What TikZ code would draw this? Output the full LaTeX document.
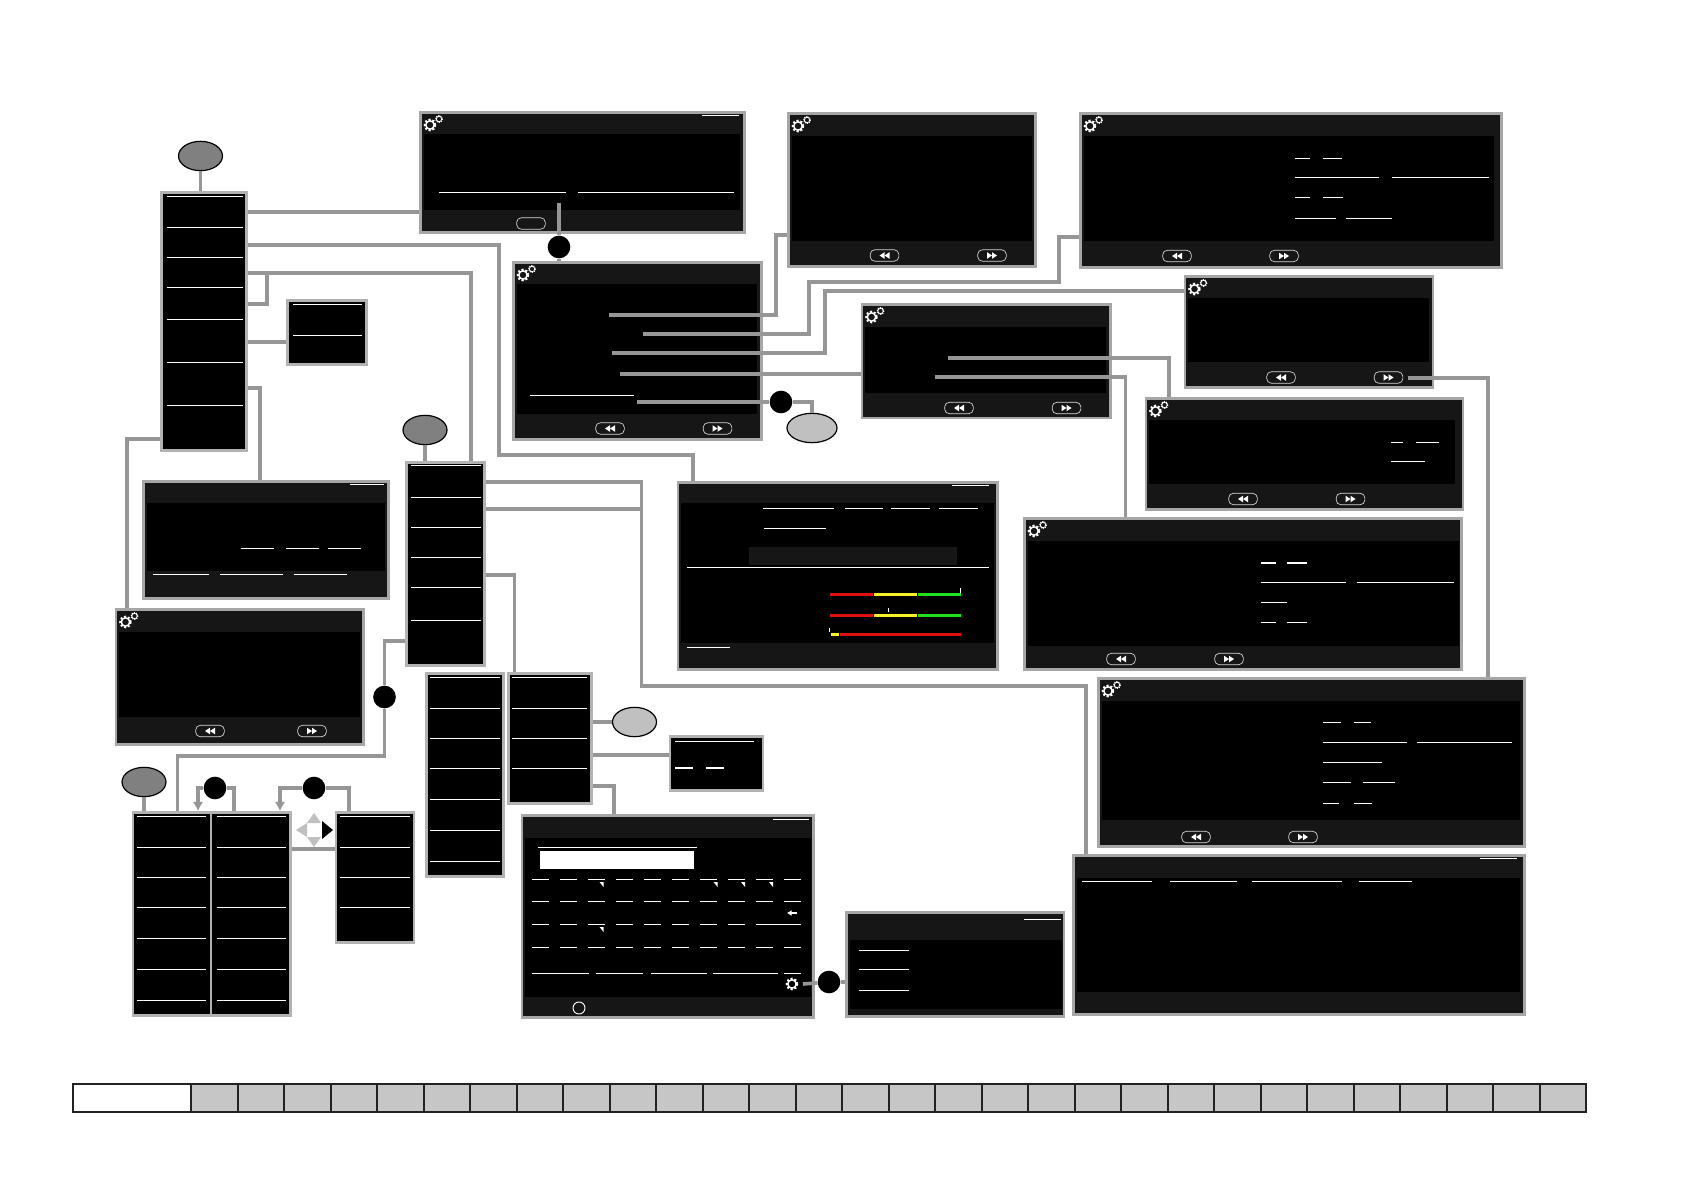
\documentclass[tikz,border=0pt]{standalone}
\usepackage{tikz}
\usepackage{xcolor}
\usetikzlibrary{arrows.meta,fit,shapes.geometric}
\definecolor{panelgray}{RGB}{22,22,22}
\definecolor{framegray}{RGB}{166,166,166}
\definecolor{menuframe}{RGB}{178,178,178}
\definecolor{linkgray}{RGB}{150,150,150}
\definecolor{ovaldark}{RGB}{128,128,128}
\definecolor{ovallight}{RGB}{192,192,192}
\definecolor{cellgray}{RGB}{198,198,198}
\definecolor{stripdark}{RGB}{34,34,34}
\definecolor{levelred}{RGB}{224,16,16}
\definecolor{levelyellow}{RGB}{248,240,40}
\definecolor{levelgreen}{RGB}{32,224,32}
\tikzset{
  screenbox/.style={draw=framegray, fill=panelgray, line width=1.9pt, inner sep=0pt},
  menubox/.style={draw=menuframe, fill=black, line width=1.9pt, inner sep=0pt},
  link/.style={draw=linkgray, line width=2.7pt},
  bar/.style={draw=white, line width=0.7pt},
  thickbar/.style={draw=white, line width=1.5pt},
  ovalnode/.style={ellipse, draw=black, line width=0.9pt, inner sep=0pt, minimum width=33pt, minimum height=22pt},
  dotnode/.style={ellipse, fill=black, inner sep=0pt, minimum width=17pt, minimum height=17pt},
  navbtn/.style={draw=white!85!black, line width=0.5pt, rounded corners=3.5pt, inner sep=0pt, minimum width=21.5pt, minimum height=8.6pt}
}
% screen: name, x0, y0, x1, y1, header bottom, footer top, right inset
\newcommand{\screen}[8]{%
  \node[screenbox, fit={(#2+0.4,#3+0.4) (#4-0.4,#5-0.4)}] (#1) {};
  \fill[black] (#2+3.5,#6) rectangle (#4-#8,#7);
}
% menu: name, x0, y0, x1, y1, bar start, bar end, bar rows
\newcommand{\menulist}[8]{%
  \node[menubox, fit={(#2+0.4,#3+0.4) (#4-0.4,#5-0.4)}] (#1) {};
  \foreach \y in {#8} \draw[bar] (#6,\y) -- (#7,\y);
}
\newcommand{\rewbtn}[2]{%
  \node[navbtn] at (#1,#2) {};
  \fill[white] (#1,#2-3.3) -- (#1,#2+3.3) -- (#1-5,#2) -- cycle;
  \fill[white] (#1+5,#2-3.3) -- (#1+5,#2+3.3) -- (#1,#2) -- cycle;
}
\newcommand{\fwdbtn}[2]{%
  \node[navbtn] at (#1,#2) {};
  \fill[white] (#1-5,#2-3.3) -- (#1-5,#2+3.3) -- (#1,#2) -- cycle;
  \fill[white] (#1,#2-3.3) -- (#1,#2+3.3) -- (#1+5,#2) -- cycle;
}
\newcommand{\onegear}[2]{%
  \draw[white, line width=1.1pt] (#1,#2) circle (4.2);
  \draw[white, line width=1.7pt, dash pattern=on 1.4pt off 1.4pt] (#1,#2) circle (5.2);
}
\newcommand{\gears}[2]{%
  \onegear{#1+10}{#2+13}
  \draw[white, line width=0.6pt] (#1+19,#2+7) circle (2.7);
  \draw[white, line width=0.8pt, dash pattern=on 0.8pt off 0.8pt] (#1+19,#2+7) circle (3.4);
}

\begin{document}
\begin{tikzpicture}[x=0.75pt, y=-0.75pt, >={Latex[length=7pt,width=8pt]}]
    \useasboundingbox (0,0) rectangle (1684,1191);

    % Ovals and dots
    \node[ovalnode, fill=ovaldark] (ovalMain) at (200.5,156) {};
    \node[ovalnode, fill=ovaldark] (ovalSub) at (425,430) {};
    \node[ovalnode, fill=ovaldark] (ovalList) at (144,782) {};
    \node[ovalnode, fill=ovallight, minimum width=37.5pt] (ovalLevel) at (812,428) {};
    \node[ovalnode, fill=ovallight] (ovalTool) at (634.5,722) {};
    \node[dotnode] (dotPair) at (559,247) {};
    \node[dotnode] (dotLevel) at (781,402) {};
    \node[dotnode] (dotWizard) at (384.5,697) {};
    \node[dotnode] (dotLeft) at (215,788) {};
    \node[dotnode] (dotRight) at (314,788) {};
    \node[dotnode] (dotKeys) at (829,982) {};

    % Menus
    \menulist{menuMain}{161}{192}{247}{451}{167}{243}{196,227,257,287,319,362,405}
    \menulist{menuSub}{406}{462}{485}{666}{411}{481}{465,497,527,557,587,620}
    \menulist{menuLong}{426}{673}{504}{877}{430}{500}{677,708,738,768,799,830,861}
    \menulist{menuTool}{508}{673}{592}{804}{512}{587}{677,708,738,768}
    \menulist{listLeft}{132.5}{812}{211.4}{1016}{137}{206}{816,847,877,907,938,969,1000}
    \menulist{listMid}{210.6}{812}{291}{1016}{217}{286}{816,847,877,907,938,969,1000}
    \menulist{listRight}{335.5}{812}{414.5}{943}{340}{410}{816,847,877,907}
    \menulist{boxMain}{287}{300}{367}{365}{293}{362}{304,335}
    \menulist{boxTool}{669.5}{736}{763.5}{791}{675}{754}{741}
    \draw[thickbar] (675,768) -- (693,768);
    \draw[thickbar] (706,768) -- (724,768);

    % Top row screens
    \screen{scrName}{420}{112}{745}{233}{134}{210}{5}
    \gears{420}{112}
    \draw[bar] (702,115) -- (739,115);
    \draw[bar] (439,192) -- (566,192);
    \draw[bar] (578,192) -- (734,192);
    \node[navbtn] at (531,223.5) {};

    \screen{scrWizard}{513}{262}{762}{440}{284}{414}{5}
    \gears{513}{262}
    \draw[bar] (530,395) -- (634,395);
    \rewbtn{610}{428.5}
    \fwdbtn{717.5}{428.5}

    \screen{scrTop}{788}{113}{1036}{267}{136}{241}{4}
    \gears{788}{113}
    \rewbtn{884.5}{255.5}
    \fwdbtn{992}{255.5}

    \screen{scrAddr}{1080}{113}{1502}{268}{136}{241}{8}
    \gears{1080}{113}
    \foreach \y/\a/\b in {158/1295/1310, 158/1323/1342, 177/1295/1379, 177/1392/1489,
        197/1295/1310, 197/1323/1343, 218/1295/1336, 218/1346/1392}
      \draw[bar] (\a,\y) -- (\b,\y);
    \rewbtn{1177}{256}
    \fwdbtn{1284}{256}

    % Middle right screens
    \screen{scrNet}{861.5}{304}{1111}{418.5}{327}{393}{5}
    \gears{861.5}{304}
    \rewbtn{959}{408}
    \fwdbtn{1066.5}{408}

    \screen{scrFlow}{1184.5}{276}{1433.5}{388}{298}{362}{4.5}
    \gears{1184.5}{276}
    \rewbtn{1281}{377.5}
    \fwdbtn{1388.5}{377.5}

    \screen{scrGate}{1145.5}{398}{1463.5}{510}{420}{484}{9}
    \gears{1145.5}{398}
    \foreach \y/\a/\b in {442/1391/1403, 442/1415.5/1438.5, 461/1391/1424.5}
      \draw[bar] (\a,\y) -- (\b,\y);
    \rewbtn{1243}{499}
    \fwdbtn{1350.5}{499}

    \screen{scrHost}{1024}{518}{1462}{670}{541}{646}{3}
    \gears{1024}{518}
    \foreach \y/\a/\b in {582/1261/1345.5, 582/1356.5/1453.5, 602/1261/1287,
        622/1261/1275.5, 622/1287/1307}
      \draw[bar] (\a,\y) -- (\b,\y);
    \draw[thickbar] (1261,563) -- (1275.5,563);
    \draw[thickbar] (1287,563) -- (1307,563);
    \rewbtn{1121}{659}
    \fwdbtn{1229}{659}

    \screen{scrRoute}{1098}{678}{1525}{847}{701}{820}{5}
    \gears{1098}{678}
    \foreach \y/\a/\b in {722/1323/1341, 722/1354/1371, 742/1323/1407, 742/1417/1512,
        762/1323/1382, 782/1323/1351, 782/1363/1395, 803/1323/1339, 803/1354/1372}
      \draw[bar] (\a,\y) -- (\b,\y);
    \rewbtn{1196}{837}
    \fwdbtn{1303}{837}

    \screen{scrList}{1073}{855}{1525}{1015}{878}{992}{5}
    \foreach \y/\a/\b in {858/1480/1517, 881/1082/1152, 881/1170/1237, 881/1252/1342, 881/1359/1412}
      \draw[bar] (\a,\y) -- (\b,\y);

    % Signal screen
    \screen{scrSignal}{677.5}{482}{998}{670}{503}{643}{4}
    \fill[panelgray] (749,547) rectangle (957,565);
    \foreach \y/\a/\b in {485/952/989, 508/763/834, 508/845/883, 508/891/930, 508/939/978,
        528/764/826, 567/687/989, 647/687/730}
      \draw[bar] (\a,\y) -- (\b,\y);
    \foreach \y in {593,614} {
      \fill[levelred] (830,\y) rectangle (873,\y+3.2);
      \fill[levelyellow] (874,\y) rectangle (917,\y+3.2);
      \fill[levelgreen] (918,\y) rectangle (961,\y+3.2);
    }
    \fill[levelyellow] (831,633) rectangle (839,636.2);
    \fill[levelred] (840,633) rectangle (961,636.2);
    \draw[bar] (960,588) -- (960,592.5);
    \draw[bar] (888,608) -- (888,612);
    \draw[bar] (829,628) -- (829,632);

    % Left screens
    \screen{scrPower}{143}{481}{389}{599}{503}{571}{4}
    \foreach \y/\a/\b in {484/350/384, 548/241/274, 548/286/319, 548/328/361,
        574/153/209, 574/220/283, 574/294/347}
      \draw[bar] (\a,\y) -- (\b,\y);

    \screen{scrDate}{115.5}{609}{364}{745}{632}{717}{4}
    \gears{115.5}{609}
    \rewbtn{210}{731}
    \fwdbtn{312}{731}

    % Keyboard screen
    \screen{scrKeys}{521.5}{815}{814}{1018}{838}{997}{3}
    \draw[bar] (773,819) -- (809,819);
    \draw[bar] (538,847) -- (697,847);
    \fill[white] (540,851) rectangle (694,869);
    \foreach \i in {0,...,9} {
      \draw[bar] (532+28*\i,879) -- (549+28*\i,879);
      \draw[bar] (532+28*\i,901) -- (549+28*\i,901);
      \draw[bar] (532+28*\i,947) -- (549+28*\i,947);
    }
    \foreach \i in {0,...,7}
      \draw[bar] (532+28*\i,924) -- (549+28*\i,924);
    \draw[bar] (756,924) -- (801,924);
    \foreach \a/\b in {532/589, 596/643, 651/707, 713/778, 784/801}
      \draw[bar] (\a,973) -- (\b,973);
    \foreach \a/\y in {603.5/882, 717.5/882, 745/882, 773/882, 603.5/927}
      \fill[white] (\a,\y) -- (\a,\y+5) -- (\a-4,\y) -- cycle;
    \draw[white, line width=1pt, -{Latex[length=3.5pt,width=4.5pt]}] (797,913) -- (787,913);
    \onegear{792}{984}
    \draw[white, line width=0.7pt] (579,1008) circle (6);

    \screen{scrAdmin}{846}{912}{1064.5}{1017}{940}{1009}{2.5}
    \foreach \y/\a/\b in {919/1024/1061, 950/859/909, 969/859/909, 990/859/909}
      \draw[bar] (\a,\y) -- (\b,\y);

    % Cursor cross
    \fill[ovallight] (314,813) -- (321,823) -- (307,823) -- cycle;
    \fill[ovallight] (296,830) -- (307,823) -- (307,837) -- cycle;
    \fill[ovallight] (314,847) -- (321,837) -- (307,837) -- cycle;
    \fill[black] (333,830) -- (322,821) -- (322,839) -- cycle;

    % Free ends inside the screens
    \coordinate (nameOut) at (559,203);
    \coordinate (wizA) at (609,315);
    \coordinate (wizB) at (643,334);
    \coordinate (wizC) at (612,353);
    \coordinate (wizD) at (620,374);
    \coordinate (wizE) at (637,402);
    \coordinate (netA) at (948,358);
    \coordinate (netB) at (935,377);
    \coordinate (flowOut) at (1407.5,378);
    \coordinate (keysOut) at (803,984);

    % Links from the main menu
    \draw[link] (ovalMain) -- (ovalMain |- menuMain.north);
    \draw[link] (menuMain.east |- 0,212) -- (scrName.west |- 0,212);
    \draw[link] (menuMain.east |- 0,245) -| (499,455) -| (scrSignal.north -| 693,0);
    \draw[link] (menuMain.east |- 0,273) -| (menuSub.north -| 471,0);
    \draw[link] (menuMain.east |- 0,304) -| (267,273);
    \draw[link] (menuMain.east |- 0,342) -- (boxMain.west |- 0,342);
    \draw[link] (menuMain.east |- 0,388) -| (scrPower.north -| 260,0);
    \draw[link] (menuMain.west |- 0,439) -| (scrDate.north -| 127,0);

    % Links of the wizard
    \draw[link] (nameOut) -- (dotPair);
    \draw[link] (dotPair) -- (scrWizard.north -| dotPair);
    \draw[link] (wizA) -| (776,235) -- (scrTop.west |- 0,235);
    \draw[link] (wizB) -| (809,282) -| (1059,237) -- (scrAddr.west |- 0,237);
    \draw[link] (wizC) -| (825,291) -- (scrFlow.west |- 0,291);
    \draw[link] (wizD) -- (scrNet.west |- wizD);
    \draw[link] (wizE) -- (dotLevel);
    \draw[link] (dotLevel) -| (ovalLevel.north);
    \draw[link] (netA) -| (scrGate.north -| 1169,0);
    \draw[link] (netB) -| (scrHost.north -| 1125.5,0);
    \draw[link] (flowOut) -| (scrRoute.north -| 1488,0);

    % Links from the second menu
    \draw[link] (ovalSub) -- (ovalSub |- menuSub.north);
    \draw[link] (menuSub.east |- 0,482) -| (641.5,686) -| (scrList.north -| 1086,0);
    \draw[link] (menuSub.east |- 0,509) -- (641.5,509);
    \draw[link] (menuSub.east |- 0,575) -| (menuTool.north -| 514.5,0);
    \draw[link] (menuSub.west |- 0,641) -| (dotWizard);
    \draw[link] (dotWizard) |- (177.5,756) -- (listLeft.north -| 177.5,0);

    % Links of the lists
    \draw[link] (ovalList) -- (ovalList |- listLeft.north);
    \draw[link, ->] (dotLeft) -| (listLeft.north -| 198,0);
    \draw[link] (dotLeft) -| (listMid.north -| 234,0);
    \draw[link, ->] (dotRight) -| (listMid.north -| 280,0);
    \draw[link] (dotRight) -| (listRight.north -| 349,0);
    \draw[link] (listMid.east |- 0,849) -- (listRight.west |- 0,849);

    % Links of the tool menu
    \draw[link] (menuTool.east |- ovalTool) -- (ovalTool);
    \draw[link] (menuTool.east |- 0,755) -- (boxTool.west |- 0,755);
    \draw[link] (menuTool.east |- 0,786) -| (scrKeys.north -| 614,0);
    \draw[link] (keysOut) -- (dotKeys);
    \draw[link] (dotKeys) -- (scrAdmin.west |- dotKeys);

    % Progress strip
    \draw[stripdark, line width=1.5pt, fill=white] (73,1083.5) rectangle (1585.5,1111.5);
    \foreach \i in {0,...,29}
      \draw[stripdark, line width=1.5pt, fill=cellgray] (191+46.5*\i,1083.5) rectangle (237.5+46.5*\i,1111.5);
\end{tikzpicture}
\end{document}
